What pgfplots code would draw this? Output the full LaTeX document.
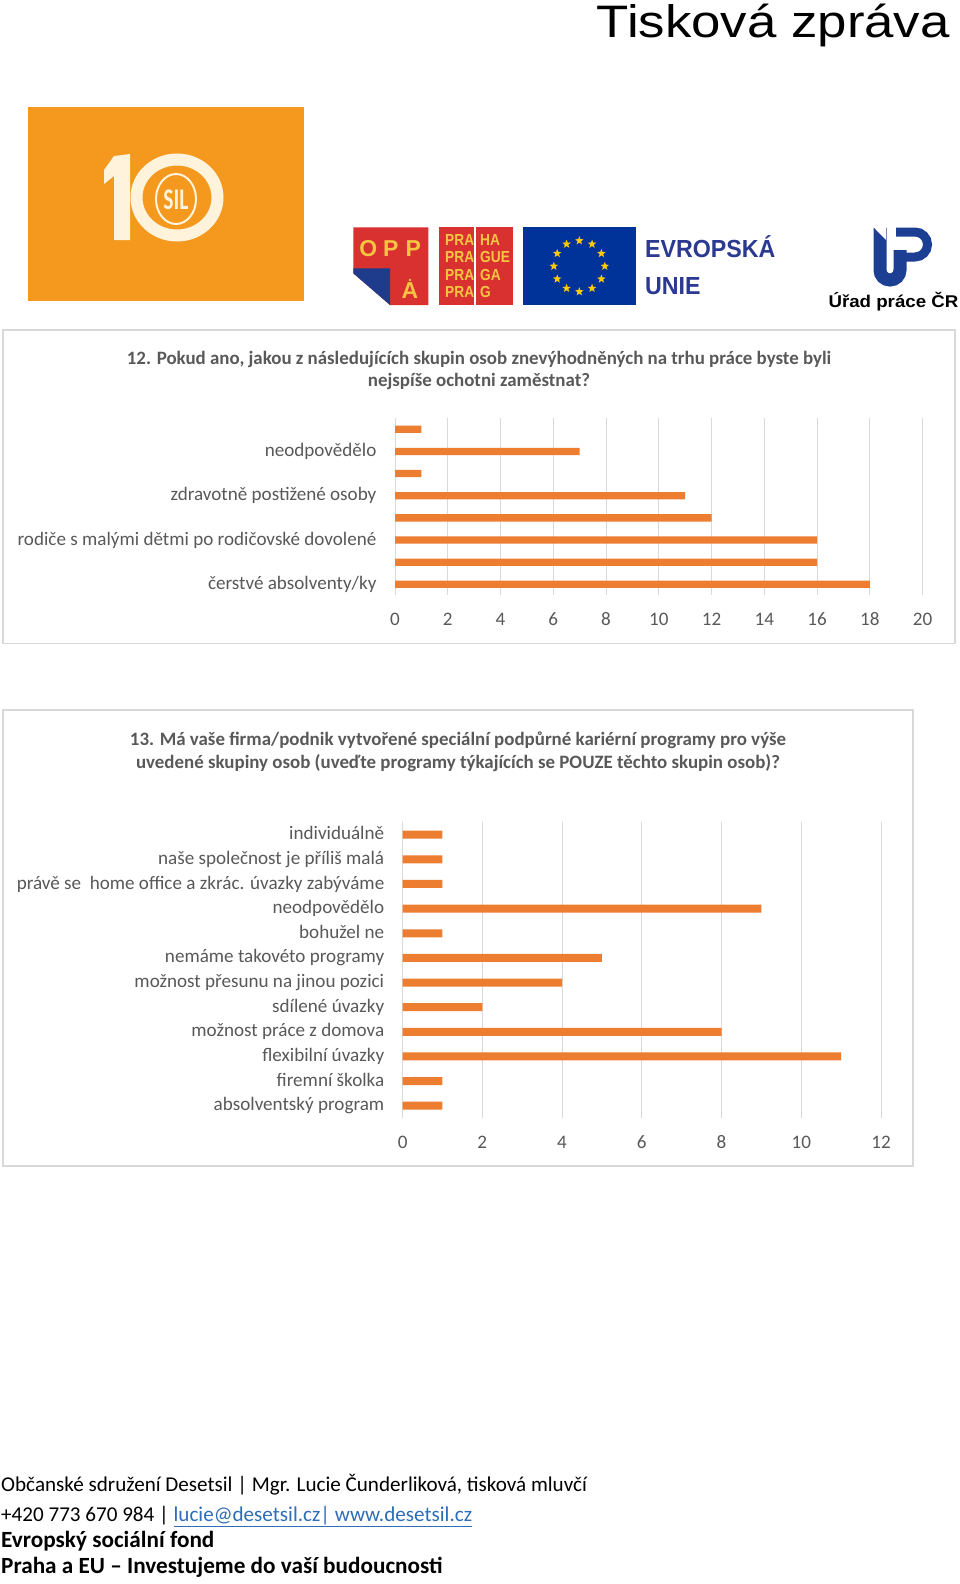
\documentclass[border=0pt]{standalone}
\usepackage{fontspec}
\setmainfont{Carlito}
\newfontfamily\arialf{Liberation Sans}
\usepackage{pgfplots}
\pgfplotsset{compat=1.18}
\usetikzlibrary{shapes.geometric}
\definecolor{barorange}{HTML}{ED7D31}
\definecolor{gridgray}{HTML}{D9D9D9}
\definecolor{txtgray}{HTML}{595959}
\definecolor{silorange}{HTML}{F5981E}
\definecolor{silcream}{HTML}{FFF3DC}
\definecolor{opred}{HTML}{D9312F}
\definecolor{opblue}{HTML}{1F3C8C}
\definecolor{opyellow}{HTML}{F4C542}
\definecolor{eublue}{HTML}{003399}
\definecolor{eustar}{HTML}{FFCC00}
\definecolor{eutext}{HTML}{2B3990}
\definecolor{upblue}{HTML}{1C3F94}
\definecolor{linkblue}{HTML}{2E6DB8}
\pgfplotsset{
  excelbar/.style={
    scale only axis, xbar, enlargelimits=false,
    xmajorgrids, grid style={draw=gridgray, line width=1pt},
    axis line style={draw=none}, major tick length=0pt,
    tick label style={font=\fontsize{19.1}{22}\selectfont, text=txtgray},
    /pgf/number format/assume math mode=true,
    xticklabel style={anchor=base, inner sep=0pt, yshift=-30.5pt},
    yticklabel style={anchor=base east, inner sep=0pt, yshift=-5.1pt},
  }
}
\begin{document}
\begin{tikzpicture}
\fill[white] (0pt,0pt) rectangle (960pt,-1584pt);
\useasboundingbox (0pt,0pt) rectangle (960pt,-1584pt);
\begin{scope}[x=1pt,y=-1pt]
  % header title
  \node[anchor=base east, inner sep=0pt, xscale=1.16, font=\arialf\fontsize{45.5}{50}\selectfont] at (950,38) {Tisková zpráva};
  % 10 SIL logo
  \fill[silorange] (27.5,107) rectangle (304,301);
  \fill[silcream] (114,156) -- (130,154) -- (130,240) -- (114,240) -- (114,176) -- (104,184) -- (104,170) -- cycle;
  \draw[silcream, line width=12pt] (177,197.5) ellipse [x radius=40.5, y radius=38];
  \draw[silcream, line width=2pt] (176,199) ellipse [x radius=20, y radius=25];
  \node[silcream, font=\bfseries\fontsize{30}{32}\selectfont, xscale=0.72, inner sep=0pt] at (176,200) {SIL};
  % OPPA logo
  \fill[opred] (353.3,227.3) -- (428.3,227.3) -- (428.3,305) -- (390,305) -- (353.3,273.3) -- cycle;
  \fill[opblue] (353.3,268.3) -- (390,268.3) -- (390,305) -- (353.3,273.3) -- cycle;
  \begin{scope}[every node/.style={opyellow, anchor=base, inner sep=0pt, font=\arialf\bfseries\fontsize{23}{25}\selectfont}]
    \node at (368.3,256.7) {O};
    \node at (390.8,256.7) {P};
    \node at (413.3,256.7) {P};
    \node at (410,298.3) {A};
  \end{scope}
  \fill[opyellow] (410,280) circle (1.3);
  % Praha logo
  \fill[opred] (439.3,227.3) rectangle (513.3,305);
  \draw[white, line width=1.2pt] (475,227.3) -- (475,305);
  \begin{scope}[every node/.style={opyellow, anchor=base west, inner sep=0pt, xscale=0.86, font=\arialf\bfseries\fontsize{16}{17}\selectfont}]
    \node at (445,245.5) {PRA}; \node at (480,245.5) {HA};
    \node at (445,262.2) {PRA}; \node at (480,262.2) {GUE};
    \node at (445,280.5) {PRA}; \node at (480,280.5) {GA};
    \node at (445,297.8) {PRA}; \node at (480,297.8) {G};
  \end{scope}
  % EU flag
  \fill[eublue] (523.3,227.3) rectangle (636,305);
  \begin{scope}[shift={(579.3,266.2)}]
    \foreach \a in {0,30,...,330}
      \node[star, star points=5, star point ratio=2.4, fill=eustar, inner sep=0pt, minimum size=9pt] at (\a:25.5) {};
  \end{scope}
  \node[anchor=base west, inner sep=0pt, text=eutext, xscale=0.94, font=\arialf\bfseries\fontsize{24.7}{27}\selectfont] at (645,257.7) {EVROPSKÁ};
  \node[anchor=base west, inner sep=0pt, text=eutext, xscale=0.94, font=\arialf\bfseries\fontsize{24.7}{27}\selectfont] at (645,294.3) {UNIE};
  % Urad prace logo
  \draw[upblue, line width=13pt] (880,227.5) -- (880,270) arc[start angle=180, end angle=0, radius=10] -- (900,250);
  \draw[upblue, line width=9pt] (896,232) -- (915,232) arc[start angle=-90, end angle=90, radius=12.5] -- (900,257);
  \fill[white] (873.3,227) -- (886,227) -- (886,240) -- cycle;
  \node[anchor=base west, inner sep=0pt, xscale=1.1, font=\arialf\bfseries\fontsize{17}{19}\selectfont] at (828.3,307) {Úřad práce ČR};
  % frames
  \draw[gridgray, line width=1.5pt] (3,330) rectangle (955,643.3);
  \draw[gridgray, line width=1.5pt] (3,710) rectangle (913,1166);
  % chart titles
  \begin{scope}[every node/.style={anchor=base, inner sep=0pt, text=txtgray, font=\bfseries\fontsize{18.9}{22}\selectfont}]
    \node at (479,364.3) {12. Pokud ano, jakou z následujících skupin osob znevýhodněných na trhu práce byste byli};
    \node at (479,386.7) {nejspíše ochotni zaměstnat?};
    \node at (458,745) {13. Má vaše firma/podnik vytvořené speciální podpůrné kariérní programy pro výše};
    \node at (458,768.3) {uvedené skupiny osob (uveďte programy týkajících se POUZE těchto skupin osob)?};
  \end{scope}
  % footer
  \begin{scope}[every node/.style={anchor=base west, inner sep=0pt, font=\fontsize{21.1}{26}\selectfont}]
    \node at (1,1491.7) {Občanské sdružení Desetsil | Mgr. Lucie Čunderliková, tisková mluvčí};
    \node at (1,1521.7) {+420 773 670 984 | \textcolor{linkblue}{\underline{lucie@desetsil.cz| www.desetsil.cz}}};
    \node[font=\bfseries\fontsize{23.2}{26}\selectfont] at (1,1547) {Evropský sociální fond};
    \node[font=\bfseries\fontsize{23.2}{26}\selectfont] at (1,1573) {Praha a EU – Investujeme do vaší budoucnosti};
  \end{scope}
\end{scope}

% Chart 12
\begin{axis}[excelbar,
  at={(395pt,-595.4pt)}, anchor=south west,
  width=527.6pt, height=177.2pt,
  xmin=0, xmax=20, ymin=-0.5, ymax=7.5,
  bar width=7.3pt,
  xtick={0,2,...,20}, ytick={0,...,7},
  yticklabel style={xshift=-18.4pt},
  yticklabels={{čerstvé absolventy/ky\hspace{16.6pt}}, {}, {rodiče s malými dětmi po rodičovské dovolené\hspace{4.6pt}}, {}, {zdravotně postižené osoby\hspace{4.6pt}}, {}, {neodpovědělo}, {}},
]
\addplot[fill=barorange, draw=none] coordinates {(18,0) (16,1) (16,2) (12,3) (11,4) (1,5) (7,6) (1,7)};
\end{axis}

% Chart 13
\begin{axis}[excelbar,
  at={(402.6pt,-1118pt)}, anchor=south west,
  width=478.4pt, height=295.6pt,
  xmin=0, xmax=12, ymin=-0.5, ymax=11.5,
  bar width=8pt,
  xtick={0,2,...,12}, ytick={0,...,11},
  yticklabel style={xshift=-18.2pt},
  yticklabels={{absolventský program}, {firemní školka}, {flexibilní úvazky\hspace{4.1pt}}, {možnost práce z domova}, {sdílené úvazky\hspace{4.1pt}}, {možnost přesunu na jinou pozici\hspace{4.1pt}}, {nemáme takovéto programy}, {bohužel ne}, {neodpovědělo}, {právě se\ \ home office a zkrác. úvazky zabýváme\hspace{4.1pt}}, {naše společnost je příliš malá\hspace{4.1pt}}, {individuálně}},
]
\addplot[fill=barorange, draw=none] coordinates {(1,0) (1,1) (11,2) (8,3) (2,4) (4,5) (5,6) (1,7) (9,8) (1,9) (1,10) (1,11)};
\end{axis}
\end{tikzpicture}
\end{document}
